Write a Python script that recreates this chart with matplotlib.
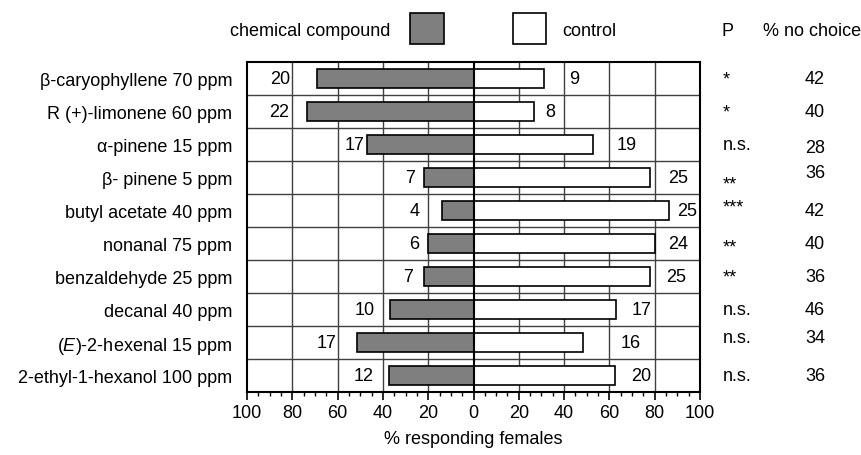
import matplotlib
matplotlib.use("Agg")
import matplotlib.pyplot as plt
import matplotlib.transforms as mtransforms
from matplotlib.patches import Rectangle

plt.rcParams['font.family'] = ['Liberation Sans', 'DejaVu Sans']
plt.rcParams['mathtext.fontset'] = 'custom'
plt.rcParams['mathtext.it'] = 'Liberation Sans:italic'
plt.rcParams['mathtext.rm'] = 'Liberation Sans'

# data
compounds = ["β-caryophyllene 70 ppm", "R (+)-limonene 60 ppm", "α-pinene 15 ppm",
             "β- pinene 5 ppm", "butyl acetate 40 ppm", "nonanal 75 ppm",
             "benzaldehyde 25 ppm", "decanal 40 ppm", "($\\it{E}$)-2-hexenal 15 ppm",
             "2-ethyl-1-hexanol 100 ppm"]
chem_pct = [69, 73.3, 47.2, 21.9, 13.8, 20, 21.9, 37, 51.5, 37.5]
ctrl_pct = [31, 26.7, 52.8, 78.1, 86.2, 80, 78.1, 63, 48.5, 62.5]
chem_n = [20, 22, 17, 7, 4, 6, 7, 10, 17, 12]
ctrl_n = [9, 8, 19, 25, 25, 24, 25, 17, 16, 20]
p_vals = ["*", "*", "n.s.", "**", "***", "**", "**", "n.s.", "n.s.", "n.s."]
no_choice = [42, 40, 28, 36, 42, 40, 36, 46, 34, 36]

# layout only: gap between bar end and count label, small vertical nudges
left_pad = [12, 8, 1, 4, 10, 4, 5, 6.5, 9, 6.5]
right_pad = [11, 5, 10.5, 8, 3.5, 6, 7, 7, 16.5, 7]
p_dy = [0, 0, 0, 0.2, -0.1, 0.1, 0, 0, -0.15, 0]
nc_dy = [0, 0, 0.1, -0.15, 0, 0, 0, 0, -0.15, 0]

fs = 13
fig = plt.figure(figsize=(8.62, 4.56), dpi=100)
ax = fig.add_axes([247 / 862, 1 - 393 / 456, 453 / 862, 330 / 456])

y = list(range(len(compounds)))
ax.barh(y, [-v for v in chem_pct], height=0.6, color='#7f7f7f', edgecolor='black', lw=1.2, zorder=3)
ax.barh(y, ctrl_pct, height=0.6, color='white', edgecolor='black', lw=1.2, zorder=3)

for i in y:
    ax.text(-chem_pct[i] - left_pad[i], i, str(chem_n[i]), ha='right', va='center', fontsize=fs, zorder=4)
    ax.text(ctrl_pct[i] + right_pad[i], i, str(ctrl_n[i]), ha='left', va='center', fontsize=fs, zorder=4)

ax.set_xlim(-100, 100)
ax.set_ylim(len(compounds) - 0.5, -0.5)

# grid
for gx in [-80, -60, -40, -20, 20, 40, 60, 80]:
    ax.axvline(gx, color='#404040', lw=1, zorder=1)
for gy in range(len(compounds) - 1):
    ax.axhline(gy + 0.5, color='#404040', lw=1, zorder=1)
ax.axvline(0, color='black', lw=1.5, zorder=5)

ax.set_xticks(range(-100, 101, 20))
ax.set_xticklabels([str(abs(t)) for t in range(-100, 101, 20)], fontsize=fs)
ax.set_xticks(range(-100, 101, 5), minor=True)
ax.tick_params(axis='x', which='major', length=6, width=1.2, direction='out', pad=3)
ax.tick_params(axis='x', which='minor', length=3, width=1, direction='out')
ax.set_yticks(y)
ax.set_yticklabels(compounds, fontsize=fs)
ax.tick_params(axis='y', length=0, pad=10.5)
for s in ax.spines.values():
    s.set_linewidth(1.5)
ax.set_xlabel('% responding females', fontsize=fs, labelpad=6)

# right-hand columns
tr = mtransforms.blended_transform_factory(fig.transFigure, ax.transData)
for i in y:
    fig.text(723 / 862, i + p_dy[i], p_vals[i], ha='left', va='center', fontsize=fs, transform=tr)
    fig.text(815 / 862, i + nc_dy[i], str(no_choice[i]), ha='center', va='center', fontsize=fs, transform=tr)

hy = 1 - 31 / 456
fig.text(722 / 862, hy, 'P', ha='left', va='center', fontsize=fs)
fig.text(861 / 862, hy, '% no choice', ha='right', va='center', fontsize=fs)

# legend
fig.text(390 / 862, hy, 'chemical compound', ha='right', va='center', fontsize=fs)
fig.patches.append(Rectangle((410 / 862, 1 - 45 / 456), 34 / 862, 31 / 456, transform=fig.transFigure,
                             facecolor='#7f7f7f', edgecolor='black', lw=1.2))
fig.patches.append(Rectangle((513 / 862, 1 - 45 / 456), 33 / 862, 31 / 456, transform=fig.transFigure,
                             facecolor='white', edgecolor='black', lw=1.2))
fig.text(562 / 862, hy, 'control', ha='left', va='center', fontsize=fs)

fig.savefig('out.png', dpi=100)
